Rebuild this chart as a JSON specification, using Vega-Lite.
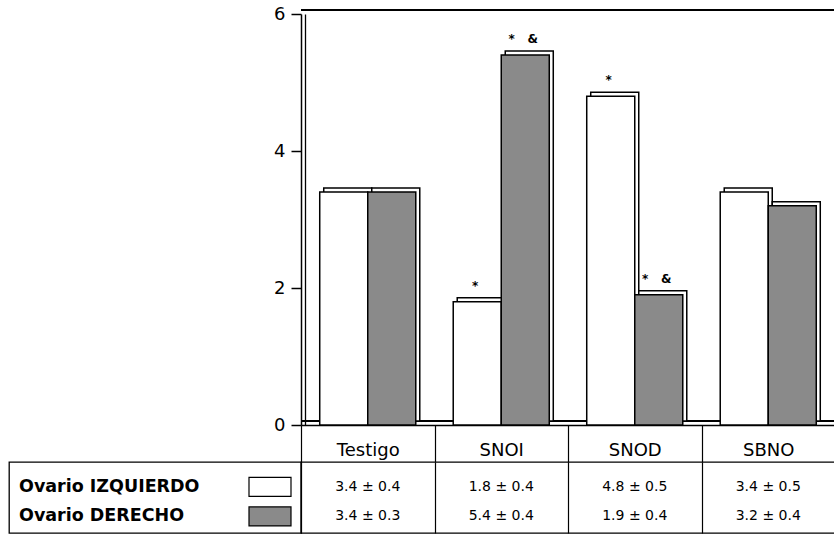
{
  "$schema": "https://vega.github.io/schema/vega-lite/v6.json",
  "padding": {"left": 8, "top": 5, "right": 0, "bottom": 0},
  "columns": 2,
  "bounds": "flush",
  "spacing": {"row": 37, "column": 0},
  "config": {
    "font": "DejaVu Sans",
    "view": {"stroke": "black", "strokeWidth": 1.3},
    "axis": {"labelColor": "black", "domainColor": "black", "tickColor": "black", "labelFont": "DejaVu Sans"}
  },
  "datasets": {
    "ovario": [
      {"grupo": "Testigo", "serie": "Ovario IZQUIERDO", "media": 3.4, "ee": 0.4, "marca": ""},
      {"grupo": "Testigo", "serie": "Ovario DERECHO", "media": 3.4, "ee": 0.3, "marca": ""},
      {"grupo": "SNOI", "serie": "Ovario IZQUIERDO", "media": 1.8, "ee": 0.4, "marca": "*"},
      {"grupo": "SNOI", "serie": "Ovario DERECHO", "media": 5.4, "ee": 0.4, "marca": "*\u00a0\u00a0\u00a0&"},
      {"grupo": "SNOD", "serie": "Ovario IZQUIERDO", "media": 4.8, "ee": 0.5, "marca": "*"},
      {"grupo": "SNOD", "serie": "Ovario DERECHO", "media": 1.9, "ee": 0.4, "marca": "*\u00a0\u00a0\u00a0&"},
      {"grupo": "SBNO", "serie": "Ovario IZQUIERDO", "media": 3.4, "ee": 0.5, "marca": ""},
      {"grupo": "SBNO", "serie": "Ovario DERECHO", "media": 3.2, "ee": 0.4, "marca": ""}
    ]
  },
  "concat": [
    {
      "width": 292,
      "height": 411,
      "view": {"stroke": null},
      "data": {"name": "ovario"},
      "mark": {"type": "text", "opacity": 0},
      "encoding": {"text": {"value": ""}}
    },
    {
      "width": 534,
      "height": 411,
      "data": {"name": "ovario"},
      "view": {"stroke": null},
      "layer": [
        {
          "mark": {"type": "rule", "color": "black", "strokeWidth": 1.5, "yOffset": -4},
          "encoding": {"y": {"datum": 6, "type": "quantitative", "axis": null}}
        },
        {
          "mark": {"type": "rule", "color": "black", "strokeWidth": 1.2, "yOffset": -4},
          "encoding": {"y": {"datum": 0, "type": "quantitative", "axis": null}}
        },
        {
          "mark": {"type": "bar", "fill": "white", "stroke": "black", "strokeWidth": 1.5, "yOffset": -4},
          "encoding": {
            "x": {
              "field": "grupo", "type": "nominal",
              "sort": ["Testigo", "SNOI", "SNOD", "SBNO"],
              "scale": {"type": "band", "paddingInner": 0, "paddingOuter": 0},
              "axis": {
                "title": null, "orient": "bottom", "labelAngle": 0,
                "tickBand": "extent", "tickSize": 37, "tickWidth": 1.2,
                "domainWidth": 1.5, "labelFontSize": 18,
                "labelBaseline": "middle", "labelPadding": -12
              }
            },
            "xOffset": {
              "field": "serie", "type": "nominal",
              "sort": ["Ovario IZQUIERDO", "Ovario DERECHO"],
              "scale": {"type": "band", "paddingInner": 0, "paddingOuter": 0.39, "range": [4, 137.5]}
            },
            "y": {
              "field": "media", "type": "quantitative",
              "scale": {"domain": [0, 6], "nice": false},
              "axis": {
                "title": null, "values": [0, 2, 4, 6], "grid": false,
                "tickSize": 10, "tickWidth": 1.5, "domainWidth": 1.5,
                "labelFontSize": 18, "labelPadding": 6
              }
            }
          }
        },
        {
          "mark": {"type": "bar", "stroke": "black", "strokeWidth": 1.5},
          "encoding": {
            "x": {"field": "grupo", "type": "nominal", "sort": ["Testigo", "SNOI", "SNOD", "SBNO"]},
            "xOffset": {
              "field": "serie", "type": "nominal",
              "sort": ["Ovario IZQUIERDO", "Ovario DERECHO"],
              "scale": {"type": "band", "paddingInner": 0, "paddingOuter": 0.39}
            },
            "y": {
              "field": "media", "type": "quantitative",
              "axis": {
                "orient": "right", "offset": -530, "title": null,
                "labels": false, "ticks": false, "grid": false, "domainWidth": 1.3
              }
            },
            "fill": {
              "field": "serie", "type": "nominal",
              "scale": {"domain": ["Ovario IZQUIERDO", "Ovario DERECHO"], "range": ["white", "#8a8a8a"]},
              "legend": null
            }
          }
        },
        {
          "mark": {"type": "text", "fontSize": 12, "fontWeight": "bold", "baseline": "middle", "dy": -16, "dx": -2},
          "encoding": {
            "x": {"field": "grupo", "type": "nominal", "sort": ["Testigo", "SNOI", "SNOD", "SBNO"]},
            "xOffset": {
              "field": "serie", "type": "nominal",
              "sort": ["Ovario IZQUIERDO", "Ovario DERECHO"],
              "scale": {"type": "band", "paddingInner": 0, "paddingOuter": 0.39}
            },
            "y": {"field": "media", "type": "quantitative", "axis": null},
            "text": {"field": "marca"}
          }
        }
      ],
      "resolve": {"axis": {"y": "independent"}, "scale": {"xOffset": "independent"}}
    },
    {
      "width": 292,
      "height": 71,
      "data": {"name": "ovario"},
      "transform": [{"filter": "datum.grupo == 'Testigo'"}],
      "encoding": {
        "y": {
          "field": "serie", "type": "nominal",
          "sort": ["Ovario IZQUIERDO", "Ovario DERECHO"],
          "scale": {"type": "band", "paddingInner": 0, "paddingOuter": 0.2, "align": 0.85},
          "axis": null
        }
      },
      "layer": [
        {
          "mark": {"type": "text", "align": "left", "fontSize": 17.5, "fontWeight": "bold", "baseline": "middle"},
          "encoding": {
            "x": {
              "datum": "nombre", "type": "nominal", "bandPosition": 0,
              "scale": {"type": "band", "domain": ["nombre", "muestra"], "paddingInner": 0.8174, "paddingOuter": 0.0435},
              "axis": null
            },
            "text": {"field": "serie"}
          }
        },
        {
          "mark": {"type": "bar", "stroke": "black", "strokeWidth": 1.2, "height": {"band": 0.64}},
          "encoding": {
            "x": {"datum": "muestra", "type": "nominal"},
            "fill": {
              "field": "serie", "type": "nominal",
              "scale": {"domain": ["Ovario IZQUIERDO", "Ovario DERECHO"], "range": ["white", "#8a8a8a"]},
              "legend": null
            }
          }
        }
      ]
    },
    {
      "width": 534,
      "height": 71,
      "data": {"name": "ovario"},
      "transform": [
        {"calculate": "format(datum.media, '.1f') + ' ± ' + format(datum.ee, '.1f')", "as": "etiqueta"}
      ],
      "mark": {"type": "text", "fontSize": 14, "baseline": "middle"},
      "encoding": {
        "x": {
          "field": "grupo", "type": "nominal",
          "sort": ["Testigo", "SNOI", "SNOD", "SBNO"],
          "scale": {"type": "band", "paddingInner": 0, "paddingOuter": 0},
          "axis": {
            "title": null, "labels": false, "ticks": false, "domain": false,
            "grid": true, "tickBand": "extent", "gridColor": "black",
            "gridWidth": 1.2, "gridOpacity": 1
          }
        },
        "y": {
          "field": "serie", "type": "nominal",
          "sort": ["Ovario IZQUIERDO", "Ovario DERECHO"],
          "scale": {"type": "band", "paddingInner": 0, "paddingOuter": 0.2, "align": 0.85},
          "axis": null
        },
        "text": {"field": "etiqueta"}
      }
    }
  ]
}
